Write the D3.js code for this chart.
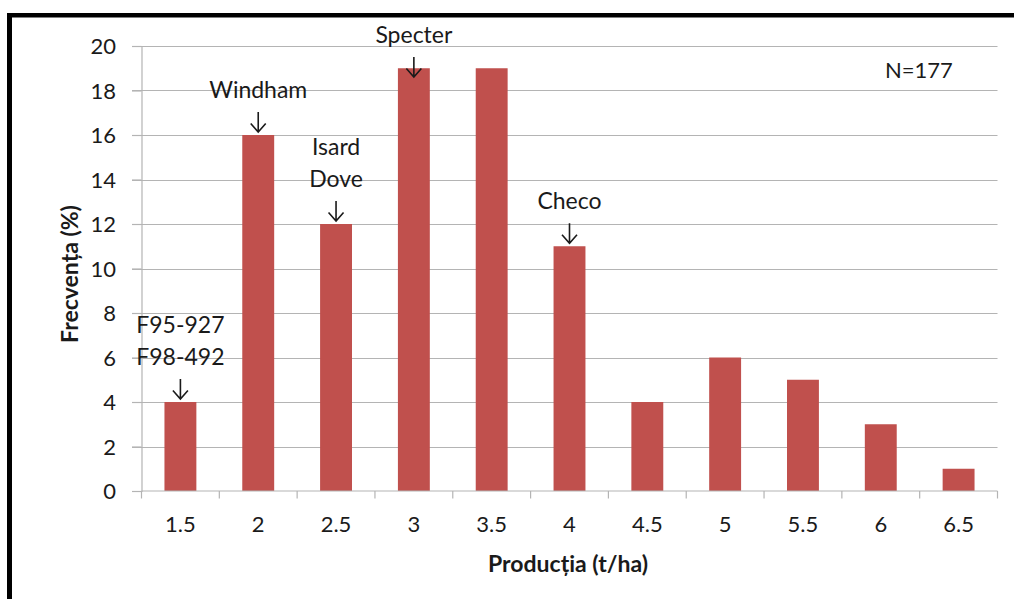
<!DOCTYPE html>
<html>
<head>
<meta charset="utf-8">
<script src="https://cdn.jsdelivr.net/npm/d3@7"></script>
<style>
  html, body { margin: 0; padding: 0; background: #fff; }
  svg { display: block; }
  text { font-family: Lato, "Open Sans", sans-serif; fill: #1a1a1a; }
</style>
</head>
<body>
<svg id="chart" width="1014" height="599"></svg>
<script>
// Yield classes (t/ha) and share of samples in each class (%)
const categories = ["1.5", "2", "2.5", "3", "3.5", "4", "4.5", "5", "5.5", "6", "6.5"];
const frequency = [4, 16, 12, 19, 19, 11, 4, 6, 5, 3, 1];
const yTicks = [0, 2, 4, 6, 8, 10, 12, 14, 16, 18, 20];

// Cultivars pointed out above their yield class
const noteCategories = ["1.5", "2", "2.5", "3", "4"];
const noteLabels = [["F95-927", "F98-492"], ["Windham"], ["Isard", "Dove"], ["Specter"], ["Checo"]];

const sampleNote = "N=177";
const xTitle = "Producția (t/ha)";
const yTitle = "Frecvența (%)";

const svg = d3.select("#chart");
const plot = { left: 141.5, right: 997.5, top: 46, bottom: 491 };
const barColor = "#C0504D";
const gridColor = "#b4b4b4";

const x = d3.scaleBand()
  .domain(categories)
  .range([plot.left, plot.right])
  .paddingInner(0.59)
  .paddingOuter(0.295);

const y = d3.scaleLinear()
  .domain([0, 20])
  .range([plot.bottom, plot.top]);

// Frame around the chart area (top and left edges)
svg.append("rect").attr("x", 7).attr("y", 13).attr("width", 1014).attr("height", 4.5).attr("fill", "#000");
svg.append("rect").attr("x", 7).attr("y", 13).attr("width", 5).attr("height", 600).attr("fill", "#000");

// Horizontal gridlines
svg.append("g")
  .selectAll("line")
  .data(yTicks.filter(d => d > 0))
  .join("line")
  .attr("x1", plot.left - 9.5)
  .attr("x2", plot.right)
  .attr("y1", d => Math.round(y(d)) + 0.5)
  .attr("y2", d => Math.round(y(d)) + 0.5)
  .attr("stroke", gridColor)
  .attr("stroke-width", 1.2);

// Y axis
const yAxis = svg.append("g")
  .attr("transform", `translate(${plot.left},0)`)
  .call(d3.axisLeft(y).tickValues(yTicks).tickSize(9.5).tickPadding(16).tickFormat(d3.format("d")));
yAxis.select(".domain").attr("stroke", gridColor).attr("stroke-width", 1.2);
yAxis.selectAll(".tick line").attr("stroke", gridColor).attr("stroke-width", 1.2);
yAxis.selectAll(".tick text")
  .attr("font-size", 22)
  .attr("font-family", "Lato, 'Open Sans', sans-serif")
  .attr("fill", "#1a1a1a")
  .attr("dy", "0.36em");

// Bars
svg.append("g")
  .selectAll("rect")
  .data(categories.map((c, i) => ({ c, v: frequency[i] })))
  .join("rect")
  .attr("x", d => x(d.c))
  .attr("width", x.bandwidth())
  .attr("y", d => y(d.v))
  .attr("height", d => y(0) - y(d.v))
  .attr("fill", barColor);

// X axis: tick marks sit on the class boundaries, labels at class centres
const xAxisG = svg.append("g").attr("transform", `translate(0,${plot.bottom})`);
xAxisG.append("line")
  .attr("x1", plot.left).attr("x2", plot.right)
  .attr("y1", 0).attr("y2", 0)
  .attr("stroke", gridColor).attr("stroke-width", 1.2);
const step = x.step();
const boundaries = d3.range(categories.length + 1).map(i => plot.left + i * step);
xAxisG.selectAll("line.b")
  .data(boundaries)
  .join("line")
  .attr("class", "b")
  .attr("x1", d => d).attr("x2", d => d)
  .attr("y1", 0).attr("y2", 7.5)
  .attr("stroke", gridColor).attr("stroke-width", 1.2);
xAxisG.selectAll("text")
  .data(categories)
  .join("text")
  .attr("x", d => x(d) + x.bandwidth() / 2)
  .attr("y", 41)
  .attr("text-anchor", "middle")
  .attr("font-size", 22)
  .text(d => d);

// Cultivar annotations with downward arrows
const lineGap = 32, arrowLen = 20, labelGap = 14, minBaseline = 43;
noteCategories.forEach((c, i) => {
  const v = frequency[categories.indexOf(c)];
  const cx = x(c) + x.bandwidth() / 2;
  const lines = noteLabels[i];
  let tip = y(v) - 3;
  let firstBase = tip - arrowLen - labelGap - (lines.length - 1) * lineGap;
  if (firstBase < minBaseline) {
    tip += minBaseline - firstBase;
    firstBase = minBaseline;
  }
  const g = svg.append("g");
  lines.forEach((t, k) => {
    g.append("text")
      .attr("x", cx)
      .attr("y", firstBase + k * lineGap)
      .attr("text-anchor", "middle")
      .attr("font-size", 23)
      .text(t);
  });
  const top = tip - arrowLen;
  g.append("path")
    .attr("d", `M${cx},${top} L${cx},${tip} M${cx - 7.5},${tip - 8.5} L${cx},${tip} L${cx + 7.5},${tip - 8.5}`)
    .attr("fill", "none")
    .attr("stroke", "#1a1a1a")
    .attr("stroke-width", 1.6);
});

// Sample size
svg.append("text")
  .attr("x", 885)
  .attr("y", 78)
  .attr("font-size", 22)
  .text(sampleNote);

// Axis titles
svg.append("text")
  .attr("x", 568)
  .attr("y", 572)
  .attr("text-anchor", "middle")
  .attr("font-size", 23)
  .attr("font-weight", "bold")
  .text(xTitle);

svg.append("text")
  .attr("transform", "translate(78,274) rotate(-90)")
  .attr("text-anchor", "middle")
  .attr("font-size", 23)
  .attr("font-weight", "bold")
  .text(yTitle);
</script>
</body>
</html>
